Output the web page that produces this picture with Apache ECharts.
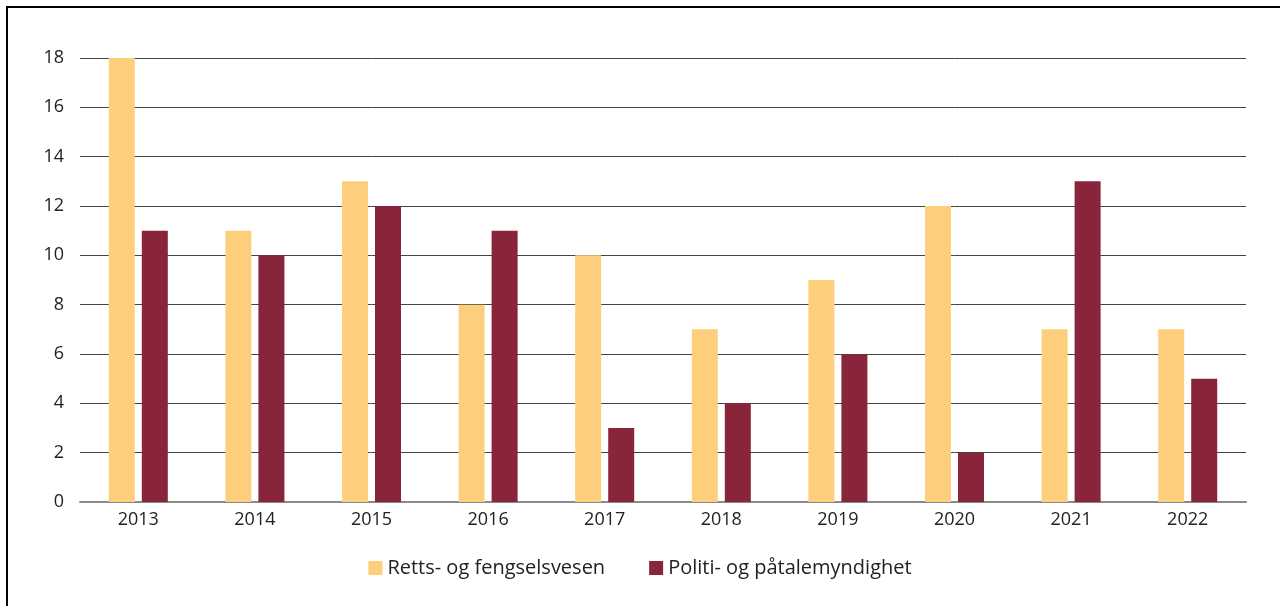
<!DOCTYPE html>
<html>
<head>
<meta charset="utf-8">
<script src="https://cdn.jsdelivr.net/npm/echarts@6/dist/echarts.min.js"></script>
<style>
  html, body { margin: 0; padding: 0; background: #fff; }
  #frame { position: absolute; left: 6px; top: 6px; width: 1274px; height: 600px;
           border-left: 2px solid #000; border-top: 2px solid #000; box-sizing: border-box; }
  #chart { position: absolute; left: 0; top: 0; width: 1280px; height: 606px; }
</style>
</head>
<body>
<div id="frame"></div>
<div id="chart"></div>
<script>
// 年份
const years = ["2013", "2014", "2015", "2016", "2017", "2018", "2019", "2020", "2021", "2022"];
// 两个系列
const rettsFengsel = [18, 11, 13, 8, 10, 7, 9, 12, 7, 7];
const politiPatale = [11, 10, 12, 11, 3, 4, 6, 2, 13, 5];
const seriesNames = ["Retts- og fengselsvesen", "Politi- og påtalemyndighet"];

const chart = echarts.init(document.getElementById("chart"));
const font = "'Open Sans', 'Noto Sans', sans-serif";

chart.setOption({
  animation: false,
  grid: { left: 80, right: 34, top: 58, bottom: 104 },
  legend: {
    bottom: 23,
    left: "center",
    itemWidth: 14,
    itemHeight: 14,
    itemGap: 44,
    icon: "rect",
    textStyle: { fontFamily: font, fontSize: 20, color: "#222" },
    data: seriesNames
  },
  xAxis: {
    type: "category",
    data: years,
    axisLine: { lineStyle: { color: "#8a8a8a", width: 2 } },
    axisTick: { show: false },
    axisLabel: { fontFamily: font, fontSize: 18, color: "#222", margin: 9 }
  },
  yAxis: {
    type: "value",
    min: 0,
    max: 18,
    interval: 2,
    axisLine: { show: false },
    axisTick: { show: false },
    axisLabel: { fontFamily: font, fontSize: 18, color: "#222", margin: 16 },
    splitLine: { lineStyle: { color: "#444", width: 1 } }
  },
  series: [
    {
      name: seriesNames[0],
      type: "bar",
      data: rettsFengsel,
      barWidth: 26,
      barGap: "27%",
      itemStyle: { color: "#FDCF7D" }
    },
    {
      name: seriesNames[1],
      type: "bar",
      data: politiPatale,
      barWidth: 26,
      itemStyle: { color: "#88253B" }
    }
  ]
});
</script>
</body>
</html>
